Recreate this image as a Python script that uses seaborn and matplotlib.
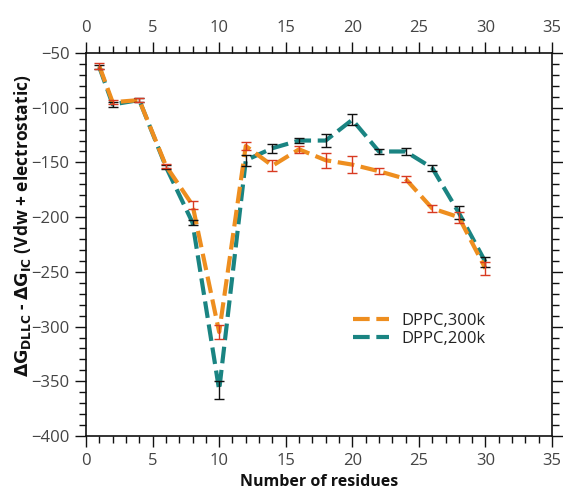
import numpy as np
import pandas as pd
import matplotlib
matplotlib.use("Agg")
import matplotlib.pyplot as plt
import seaborn as sns
from matplotlib.ticker import MultipleLocator

residues = [1, 2, 4, 6, 8, 10, 12, 14, 16, 18, 20, 22, 24, 26, 28, 30]
dg_300k = [-62, -95, -93, -153, -189, -305, -135, -153, -138, -148, -152, -158, -165, -192, -200, -247]
err_300k = [3, 2, 2, 2, 4, 6, 4, 5, 3, 7, 8, 3, 3, 3, 5, 6]
dg_200k = [-63, -97, -93, -154, -205, -358, -148, -137, -130, -130, -111, -140, -140, -155, -196, -241]
err_200k = [2, 2, 2, 2, 2, 8, 5, 4, 2, 6, 5, 2, 3, 3, 6, 5]

labels = ["DPPC,300k", "DPPC,200k"]
colors = {"DPPC,300k": "#ee8e1f", "DPPC,200k": "#1a8482"}
err_colors = {"DPPC,300k": "#d83a22", "DPPC,200k": "#111111"}

df = pd.DataFrame({
    "residues": residues * 2,
    "dg": dg_300k + dg_200k,
    "err": err_300k + err_200k,
    "system": [labels[0]] * len(residues) + [labels[1]] * len(residues),
})

sns.set_style("white")
plt.rcParams["font.family"] = ["Open Sans", "DejaVu Sans"]

fig = plt.figure(figsize=(5.63, 4.94), dpi=100)
ax = fig.add_axes([0.1528, 0.1174, 0.8277, 0.7753])

# draw 200k first so the 300k curve sits on top
for sys_name in [labels[1], labels[0]]:
    sub = df[df["system"] == sys_name]
    sns.lineplot(data=sub, x="residues", y="dg", ax=ax, color=colors[sys_name],
                 linewidth=3, dashes=False, label=sys_name, zorder=2)
    ax.lines[-1].set_dashes([4, 1.6])
    ax.errorbar(sub["residues"], sub["dg"], yerr=sub["err"], fmt="none",
                ecolor=err_colors[sys_name], elinewidth=1.0, capsize=3.5,
                capthick=1.0, zorder=3)

ax.set_xlim(0, 35)
ax.set_ylim(-400, -50)
ax.xaxis.set_major_locator(MultipleLocator(5))
ax.xaxis.set_minor_locator(MultipleLocator(1))
ax.yaxis.set_major_locator(MultipleLocator(50))
ax.yaxis.set_minor_locator(MultipleLocator(10))
ax.tick_params(which="both", direction="out", top=True, right=True,
               left=True, bottom=True,
               labeltop=True, labelbottom=True, colors="#111111",
               labelcolor="#444444", labelsize=12, pad=4)
ax.tick_params(which="major", length=8, width=1)
ax.tick_params(which="minor", length=5, width=1)
for s in ax.spines.values():
    s.set_color("#111111")
    s.set_linewidth(1.2)

ax.set_xlabel("Number of residues", fontsize=11.5, fontweight="bold", color="#111111",
              labelpad=4)
ax.set_ylabel(r"$\mathbf{\Delta G_{DLLC}}$ - $\mathbf{\Delta G_{IC}}$ (Vdw + electrostatic)",
              fontsize=12.5, fontweight="bold", color="#111111")
ax.yaxis.set_label_coords(-0.114, 0.55)

handles, lbls = ax.get_legend_handles_labels()
order = [lbls.index(labels[0]), lbls.index(labels[1])]
leg = ax.legend([handles[i] for i in order], [lbls[i] for i in order],
                loc="upper left", bbox_to_anchor=(0.54, 0.36), frameon=False,
                fontsize=12, handlelength=2.2, labelspacing=0.1, handletextpad=0.7)
for t in leg.get_texts():
    t.set_color("#222222")

fig.savefig("out.png", dpi=100)
